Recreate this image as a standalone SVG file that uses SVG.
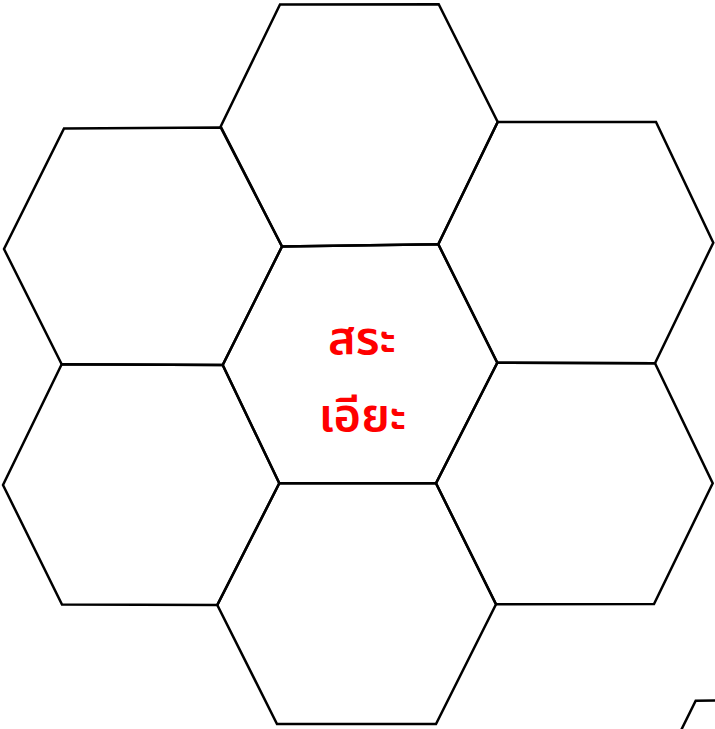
<svg xmlns="http://www.w3.org/2000/svg" width="715" height="729" viewBox="0 0 715 729">
<style>
.hex{fill:none;stroke:#000;stroke-width:2.5;stroke-linejoin:miter}
.lbl{font-family:"Noto Sans","Noto Sans Thai","DejaVu Sans",sans-serif;font-size:47px;font-weight:600;fill:#ff0000;text-anchor:middle}
</style>
<rect width="715" height="729" fill="#fff"/>
<g id="hex-top"><polygon class="hex" points="280,4.5 438.7,4.3 497.7,122 438.3,244.3 282,246.5 220.7,126.5"/></g>
<g id="hex-upper-left"><polygon class="hex" points="64,128.5 220.7,127.5 282,246.5 222.7,365 61.7,364.3 4,249"/></g>
<g id="hex-upper-right"><polygon class="hex" points="497.7,122 656,122 713.3,242.7 655,363.3 497.3,362.7 438.3,244.3"/></g>
<g id="hex-center"><polygon class="hex" points="282,246.5 438.3,244.3 497.3,362.7 436,483.3 279.3,483.3 222.7,365"/>
<text class="lbl" x="362" y="354">สระ</text>
<text class="lbl" x="362.5" y="431">เอียะ</text></g>
<g id="hex-lower-left"><polygon class="hex" points="61.7,364.3 222.7,365 279.3,483.3 217.3,605 62,604.5 3,485"/></g>
<g id="hex-lower-right"><polygon class="hex" points="497.3,362.7 655,363.3 712.7,483.3 654,604 496,604.3 436,483.3"/></g>
<g id="hex-bottom"><polygon class="hex" points="279.3,483.3 436,483.3 496,604.3 436,724 277,724 217.3,605"/></g>
<g id="hex-partial"><polyline class="hex" points="680.7,731 695.7,700.7 717,700.5"/></g>
<g id="connectors"></g>
</svg>
